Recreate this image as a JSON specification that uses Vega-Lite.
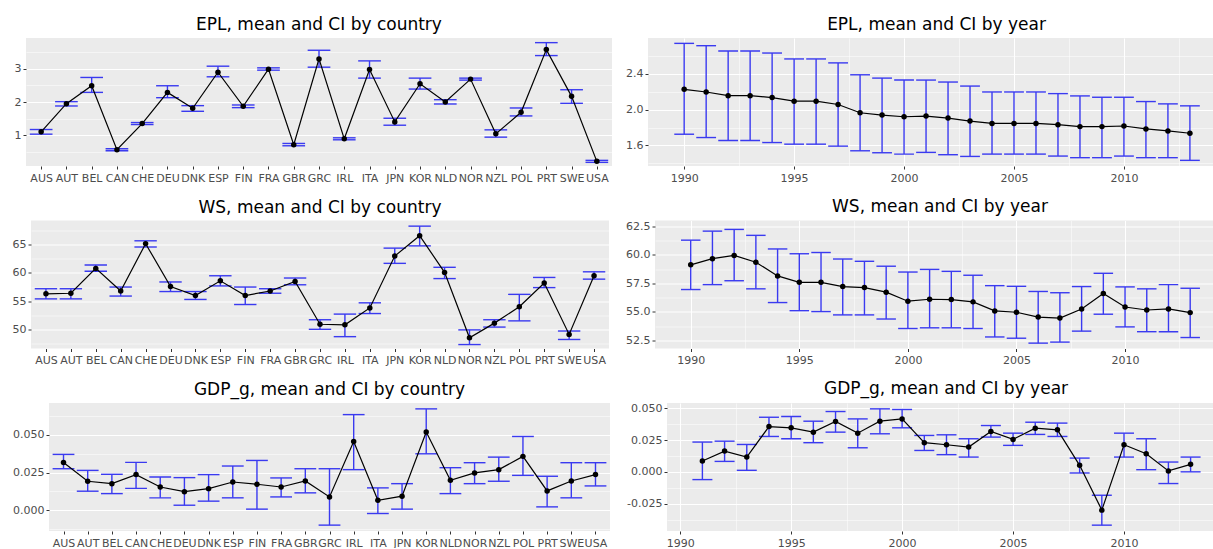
{
  "$schema": "https://vega.github.io/schema/vega-lite/v6.json",
  "background": "white",
  "padding": {"left": 0, "right": 0, "top": 16, "bottom": 0},
  "config": {
    "font": "DejaVu Sans",
    "view": {"stroke": null},
    "axis": {"domain": false, "gridColor": "#ffffff", "gridWidth": 1, "tickColor": "#333333", "tickSize": 3, "tickWidth": 1, "labelColor": "#4d4d4d", "labelFont": "DejaVu Sans", "labelFontSize": 11, "labelPadding": 2, "labelOverlap": false, "labelBound": false, "labelFlush": false},
    "axisX": {"labelPadding": 3, "labelAngle": 0},
    "title": {"font": "DejaVu Sans", "fontSize": 17, "fontWeight": "normal", "color": "#000000", "anchor": "middle", "frame": "group", "baseline": "alphabetic", "offset": 4}
  },
  "datasets": {
    "epl_c": [
      {"country": "AUS", "mean": 1.10, "lo": 1.03, "hi": 1.17},
      {"country": "AUT", "mean": 1.95, "lo": 1.88, "hi": 2.01},
      {"country": "BEL", "mean": 2.49, "lo": 2.29, "hi": 2.74},
      {"country": "CAN", "mean": 0.56, "lo": 0.53, "hi": 0.59},
      {"country": "CHE", "mean": 1.35, "lo": 1.32, "hi": 1.38},
      {"country": "DEU", "mean": 2.29, "lo": 2.13, "hi": 2.49},
      {"country": "DNK", "mean": 1.81, "lo": 1.72, "hi": 1.89},
      {"country": "ESP", "mean": 2.90, "lo": 2.76, "hi": 3.08},
      {"country": "FIN", "mean": 1.87, "lo": 1.83, "hi": 1.91},
      {"country": "FRA", "mean": 2.99, "lo": 2.96, "hi": 3.03},
      {"country": "GBR", "mean": 0.71, "lo": 0.68, "hi": 0.75},
      {"country": "GRC", "mean": 3.30, "lo": 3.05, "hi": 3.56},
      {"country": "IRL", "mean": 0.89, "lo": 0.86, "hi": 0.92},
      {"country": "ITA", "mean": 2.98, "lo": 2.72, "hi": 3.24},
      {"country": "JPN", "mean": 1.40, "lo": 1.30, "hi": 1.51},
      {"country": "KOR", "mean": 2.55, "lo": 2.39, "hi": 2.72},
      {"country": "NLD", "mean": 2.00, "lo": 1.94, "hi": 2.07},
      {"country": "NOR", "mean": 2.69, "lo": 2.66, "hi": 2.72},
      {"country": "NZL", "mean": 1.04, "lo": 0.94, "hi": 1.16},
      {"country": "POL", "mean": 1.69, "lo": 1.58, "hi": 1.82},
      {"country": "PRT", "mean": 3.58, "lo": 3.40, "hi": 3.79},
      {"country": "SWE", "mean": 2.17, "lo": 1.96, "hi": 2.37},
      {"country": "USA", "mean": 0.21, "lo": 0.18, "hi": 0.24}
    ],
    "epl_y": [
      {"year": 1990, "mean": 2.227, "lo": 1.725, "hi": 2.740},
      {"year": 1991, "mean": 2.197, "lo": 1.688, "hi": 2.714},
      {"year": 1992, "mean": 2.156, "lo": 1.655, "hi": 2.655},
      {"year": 1993, "mean": 2.156, "lo": 1.655, "hi": 2.655},
      {"year": 1994, "mean": 2.134, "lo": 1.632, "hi": 2.632},
      {"year": 1995, "mean": 2.094, "lo": 1.614, "hi": 2.566},
      {"year": 1996, "mean": 2.094, "lo": 1.614, "hi": 2.566},
      {"year": 1997, "mean": 2.057, "lo": 1.592, "hi": 2.522},
      {"year": 1998, "mean": 1.965, "lo": 1.540, "hi": 2.389},
      {"year": 1999, "mean": 1.939, "lo": 1.518, "hi": 2.352},
      {"year": 2000, "mean": 1.920, "lo": 1.503, "hi": 2.330},
      {"year": 2001, "mean": 1.928, "lo": 1.522, "hi": 2.330},
      {"year": 2002, "mean": 1.905, "lo": 1.496, "hi": 2.308},
      {"year": 2003, "mean": 1.872, "lo": 1.477, "hi": 2.263},
      {"year": 2004, "mean": 1.846, "lo": 1.503, "hi": 2.197},
      {"year": 2005, "mean": 1.846, "lo": 1.503, "hi": 2.197},
      {"year": 2006, "mean": 1.846, "lo": 1.503, "hi": 2.197},
      {"year": 2007, "mean": 1.832, "lo": 1.481, "hi": 2.179},
      {"year": 2008, "mean": 1.810, "lo": 1.463, "hi": 2.153},
      {"year": 2009, "mean": 1.810, "lo": 1.463, "hi": 2.138},
      {"year": 2010, "mean": 1.817, "lo": 1.481, "hi": 2.138},
      {"year": 2011, "mean": 1.784, "lo": 1.463, "hi": 2.090},
      {"year": 2012, "mean": 1.762, "lo": 1.463, "hi": 2.064},
      {"year": 2013, "mean": 1.736, "lo": 1.433, "hi": 2.042}
    ],
    "ws_c": [
      {"country": "AUS", "mean": 56.3, "lo": 55.4, "hi": 57.2},
      {"country": "AUT", "mean": 56.4, "lo": 55.4, "hi": 57.2},
      {"country": "BEL", "mean": 60.8, "lo": 60.3, "hi": 61.4},
      {"country": "CAN", "mean": 56.8, "lo": 55.9, "hi": 57.5},
      {"country": "CHE", "mean": 65.2, "lo": 64.6, "hi": 65.7},
      {"country": "DEU", "mean": 57.6, "lo": 56.7, "hi": 58.4},
      {"country": "DNK", "mean": 56.0, "lo": 55.3, "hi": 56.7},
      {"country": "ESP", "mean": 58.6, "lo": 57.7, "hi": 59.5},
      {"country": "FIN", "mean": 56.0, "lo": 54.4, "hi": 57.5},
      {"country": "FRA", "mean": 56.8, "lo": 56.4, "hi": 57.2},
      {"country": "GBR", "mean": 58.5, "lo": 57.9, "hi": 59.1},
      {"country": "GRC", "mean": 50.9, "lo": 50.0, "hi": 51.7},
      {"country": "IRL", "mean": 50.8, "lo": 48.7, "hi": 52.7},
      {"country": "ITA", "mean": 53.8, "lo": 52.8, "hi": 54.7},
      {"country": "JPN", "mean": 63.0, "lo": 61.7, "hi": 64.4},
      {"country": "KOR", "mean": 66.6, "lo": 64.8, "hi": 68.3},
      {"country": "NLD", "mean": 60.1, "lo": 59.0, "hi": 61.0},
      {"country": "NOR", "mean": 48.5, "lo": 47.3, "hi": 49.9},
      {"country": "NZL", "mean": 51.1, "lo": 50.4, "hi": 51.7},
      {"country": "POL", "mean": 54.0, "lo": 51.5, "hi": 56.2},
      {"country": "PRT", "mean": 58.2, "lo": 57.4, "hi": 59.2},
      {"country": "SWE", "mean": 49.1, "lo": 48.2, "hi": 49.7},
      {"country": "USA", "mean": 59.5, "lo": 58.9, "hi": 60.2}
    ],
    "ws_y": [
      {"year": 1990, "mean": 59.12, "lo": 56.96, "hi": 61.28},
      {"year": 1991, "mean": 59.66, "lo": 57.39, "hi": 62.07},
      {"year": 1992, "mean": 59.94, "lo": 57.73, "hi": 62.22},
      {"year": 1993, "mean": 59.35, "lo": 57.02, "hi": 61.70},
      {"year": 1994, "mean": 58.15, "lo": 55.82, "hi": 60.51},
      {"year": 1995, "mean": 57.59, "lo": 55.11, "hi": 60.09},
      {"year": 1996, "mean": 57.59, "lo": 55.03, "hi": 60.20},
      {"year": 1997, "mean": 57.22, "lo": 54.74, "hi": 59.63},
      {"year": 1998, "mean": 57.13, "lo": 54.74, "hi": 59.43},
      {"year": 1999, "mean": 56.73, "lo": 54.38, "hi": 59.00},
      {"year": 2000, "mean": 55.94, "lo": 53.55, "hi": 58.49},
      {"year": 2001, "mean": 56.11, "lo": 53.61, "hi": 58.72},
      {"year": 2002, "mean": 56.08, "lo": 53.61, "hi": 58.55},
      {"year": 2003, "mean": 55.88, "lo": 53.55, "hi": 58.21},
      {"year": 2004, "mean": 55.09, "lo": 52.81, "hi": 57.30},
      {"year": 2005, "mean": 54.97, "lo": 52.70, "hi": 57.24},
      {"year": 2006, "mean": 54.55, "lo": 52.27, "hi": 56.79},
      {"year": 2007, "mean": 54.46, "lo": 52.36, "hi": 56.68},
      {"year": 2008, "mean": 55.26, "lo": 53.32, "hi": 57.22},
      {"year": 2009, "mean": 56.62, "lo": 54.80, "hi": 58.38},
      {"year": 2010, "mean": 55.43, "lo": 53.69, "hi": 57.19},
      {"year": 2011, "mean": 55.17, "lo": 53.27, "hi": 57.02},
      {"year": 2012, "mean": 55.26, "lo": 53.27, "hi": 57.39},
      {"year": 2013, "mean": 54.94, "lo": 52.76, "hi": 57.07}
    ],
    "gdp_c": [
      {"country": "AUS", "mean": 0.0317, "lo": 0.0275, "hi": 0.0370},
      {"country": "AUT", "mean": 0.0192, "lo": 0.0126, "hi": 0.0264},
      {"country": "BEL", "mean": 0.0176, "lo": 0.0110, "hi": 0.0238},
      {"country": "CAN", "mean": 0.0236, "lo": 0.0145, "hi": 0.0317},
      {"country": "CHE", "mean": 0.0154, "lo": 0.0082, "hi": 0.0220},
      {"country": "DEU", "mean": 0.0123, "lo": 0.0033, "hi": 0.0216},
      {"country": "DNK", "mean": 0.0143, "lo": 0.0060, "hi": 0.0236},
      {"country": "ESP", "mean": 0.0187, "lo": 0.0082, "hi": 0.0293},
      {"country": "FIN", "mean": 0.0172, "lo": 0.0007, "hi": 0.0330},
      {"country": "FRA", "mean": 0.0154, "lo": 0.0088, "hi": 0.0214},
      {"country": "GBR", "mean": 0.0194, "lo": 0.0115, "hi": 0.0275},
      {"country": "GRC", "mean": 0.0088, "lo": -0.0099, "hi": 0.0275},
      {"country": "IRL", "mean": 0.0456, "lo": 0.0269, "hi": 0.0634},
      {"country": "ITA", "mean": 0.0066, "lo": -0.0022, "hi": 0.0148},
      {"country": "JPN", "mean": 0.0093, "lo": 0.0007, "hi": 0.0176},
      {"country": "KOR", "mean": 0.0518, "lo": 0.0374, "hi": 0.0672},
      {"country": "NLD", "mean": 0.0198, "lo": 0.0110, "hi": 0.0282},
      {"country": "NOR", "mean": 0.0247, "lo": 0.0176, "hi": 0.0315},
      {"country": "NZL", "mean": 0.0269, "lo": 0.0192, "hi": 0.0352},
      {"country": "POL", "mean": 0.0357, "lo": 0.0231, "hi": 0.0489},
      {"country": "PRT", "mean": 0.0128, "lo": 0.0022, "hi": 0.0225},
      {"country": "SWE", "mean": 0.0194, "lo": 0.0082, "hi": 0.0315},
      {"country": "USA", "mean": 0.0236, "lo": 0.0161, "hi": 0.0315}
    ],
    "gdp_y": [
      {"year": 1991, "mean": 0.0085, "lo": -0.0061, "hi": 0.0234},
      {"year": 1992, "mean": 0.0163, "lo": 0.0082, "hi": 0.0241},
      {"year": 1993, "mean": 0.0116, "lo": 0.0012, "hi": 0.0215},
      {"year": 1994, "mean": 0.0356, "lo": 0.0278, "hi": 0.0429},
      {"year": 1995, "mean": 0.0346, "lo": 0.0260, "hi": 0.0435},
      {"year": 1996, "mean": 0.0312, "lo": 0.0229, "hi": 0.0398},
      {"year": 1997, "mean": 0.0396, "lo": 0.0312, "hi": 0.0474},
      {"year": 1998, "mean": 0.0304, "lo": 0.0189, "hi": 0.0416},
      {"year": 1999, "mean": 0.0398, "lo": 0.0299, "hi": 0.0495},
      {"year": 2000, "mean": 0.0416, "lo": 0.0346, "hi": 0.0490},
      {"year": 2001, "mean": 0.0229, "lo": 0.0168, "hi": 0.0286},
      {"year": 2002, "mean": 0.0213, "lo": 0.0135, "hi": 0.0291},
      {"year": 2003, "mean": 0.0195, "lo": 0.0116, "hi": 0.0260},
      {"year": 2004, "mean": 0.0317, "lo": 0.0273, "hi": 0.0364},
      {"year": 2005, "mean": 0.0255, "lo": 0.0208, "hi": 0.0304},
      {"year": 2006, "mean": 0.0343, "lo": 0.0294, "hi": 0.0390},
      {"year": 2007, "mean": 0.0330, "lo": 0.0278, "hi": 0.0383},
      {"year": 2008, "mean": 0.0051, "lo": -0.0009, "hi": 0.0108},
      {"year": 2009, "mean": -0.0301, "lo": -0.0419, "hi": -0.0184},
      {"year": 2010, "mean": 0.0213, "lo": 0.0116, "hi": 0.0304},
      {"year": 2011, "mean": 0.0142, "lo": 0.0017, "hi": 0.0260},
      {"year": 2012, "mean": 0.0007, "lo": -0.0092, "hi": 0.0077},
      {"year": 2013, "mean": 0.0059, "lo": 0.0000, "hi": 0.0116}
    ]
  },
  "columns": 1,
  "align": "none",
  "spacing": 14.5,
  "concat": [
    {
      "spacing": 0,
      "bounds": "flush",
      "hconcat": [
        {"width": 26, "height": 128, "data": {"values": [{}]}, "mark": {"type": "text", "text": "", "opacity": 0}, "encoding": {}},
        {
          "width": 586, "height": 128,
          "view": {"fill": "#ebebeb", "stroke": null},
          "title": {"text": "EPL, mean and CI by country"},
          "data": {"name": "epl_c"},
          "resolve": {"axis": {"y": "independent"}},
          "encoding": {"x": {"field": "country", "type": "nominal", "title": null, "scale": {"type": "point", "padding": 0.6}}},
          "layer": [
            {"mark": {"type": "rule", "color": "#3a3af0", "strokeWidth": 1.4},
             "encoding": {"y": {"field": "lo", "type": "quantitative", "title": null, "scale": {"domain": [0.07, 3.93], "nice": false, "zero": false},
               "axis": {"orient": "left", "values": [1, 2, 3], "minExtent": 26, "maxExtent": 26}},
               "y2": {"field": "hi"}}},
            {"mark": {"type": "tick", "orient": "horizontal", "size": 22.7, "thickness": 1.4, "color": "#3a3af0", "opacity": 1},
             "encoding": {"y": {"field": "hi", "type": "quantitative", "title": null, "scale": {"domain": [0.07, 3.93], "nice": false, "zero": false},
               "axis": {"orient": "left", "values": [0.5, 1.5, 2.5, 3.5], "labels": false, "ticks": false, "grid": true, "gridWidth": 0.5, "minExtent": 0, "maxExtent": 0}}}},
            {"mark": {"type": "tick", "orient": "horizontal", "size": 22.7, "thickness": 1.4, "color": "#3a3af0", "opacity": 1},
             "encoding": {"y": {"field": "lo", "type": "quantitative", "axis": null, "scale": {"domain": [0.07, 3.93], "nice": false, "zero": false}}}},
            {"mark": {"type": "line", "color": "#000000", "strokeWidth": 1.2},
             "encoding": {"y": {"field": "mean", "type": "quantitative", "axis": null, "scale": {"domain": [0.07, 3.93], "nice": false, "zero": false}}}},
            {"mark": {"type": "point", "filled": true, "color": "#000000", "size": 30, "opacity": 1},
             "encoding": {"y": {"field": "mean", "type": "quantitative", "axis": null, "scale": {"domain": [0.07, 3.93], "nice": false, "zero": false}}}}
          ]
        },
        {"width": 36, "height": 128, "data": {"values": [{}]}, "mark": {"type": "text", "text": "", "opacity": 0}, "encoding": {}},
        {
          "width": 565, "height": 128,
          "view": {"fill": "#ebebeb", "stroke": null},
          "title": {"text": "EPL, mean and CI by year", "dx": 6},
          "data": {"name": "epl_y"},
          "resolve": {"axis": {"y": "independent"}},
          "encoding": {"x": {"field": "year", "type": "quantitative", "title": null, "scale": {"domain": [1988.355, 2014.05], "nice": false, "zero": false},
            "axis": {"values": [1990, 1992.5, 1995, 1997.5, 2000, 2002.5, 2005, 2007.5, 2010, 2012.5], "format": "d",
              "labelExpr": "datum.value % 5 !== 0 ? '' : datum.label",
              "tickOpacity": {"condition": {"test": "datum.value % 5 !== 0", "value": 0}, "value": 1},
              "gridWidth": {"condition": {"test": "datum.value % 5 !== 0", "value": 0.5}, "value": 1}}}},
          "layer": [
            {"mark": {"type": "rule", "color": "#3a3af0", "strokeWidth": 1.4},
             "encoding": {"y": {"field": "lo", "type": "quantitative", "title": null, "scale": {"domain": [1.37, 2.80], "nice": false, "zero": false},
               "axis": {"orient": "left", "values": [1.6, 2.0, 2.4], "format": ".1f", "minExtent": 36, "maxExtent": 36}},
               "y2": {"field": "hi"}}},
            {"mark": {"type": "tick", "orient": "horizontal", "size": 19.8, "thickness": 1.4, "color": "#3a3af0", "opacity": 1},
             "encoding": {"y": {"field": "hi", "type": "quantitative", "title": null, "scale": {"domain": [1.37, 2.80], "nice": false, "zero": false},
               "axis": {"orient": "left", "values": [1.4, 1.8, 2.2, 2.6], "labels": false, "ticks": false, "grid": true, "gridWidth": 0.5, "minExtent": 0, "maxExtent": 0}}}},
            {"mark": {"type": "tick", "orient": "horizontal", "size": 19.8, "thickness": 1.4, "color": "#3a3af0", "opacity": 1},
             "encoding": {"y": {"field": "lo", "type": "quantitative", "axis": null, "scale": {"domain": [1.37, 2.80], "nice": false, "zero": false}}}},
            {"mark": {"type": "line", "color": "#000000", "strokeWidth": 1.2},
             "encoding": {"y": {"field": "mean", "type": "quantitative", "axis": null, "scale": {"domain": [1.37, 2.80], "nice": false, "zero": false}}}},
            {"mark": {"type": "point", "filled": true, "color": "#000000", "size": 30, "opacity": 1},
             "encoding": {"y": {"field": "mean", "type": "quantitative", "axis": null, "scale": {"domain": [1.37, 2.80], "nice": false, "zero": false}}}}
          ]
        }
      ]
    },
    {
      "spacing": 0,
      "bounds": "flush",
      "hconcat": [
        {"width": 31, "height": 128, "data": {"values": [{}]}, "mark": {"type": "text", "text": "", "opacity": 0}, "encoding": {}},
        {
          "width": 578, "height": 128,
          "view": {"fill": "#ebebeb", "stroke": null},
          "title": {"text": "WS, mean and CI by country"},
          "data": {"name": "ws_c"},
          "resolve": {"axis": {"y": "independent"}},
          "encoding": {"x": {"field": "country", "type": "nominal", "title": null, "scale": {"type": "point", "padding": 0.6}}},
          "layer": [
            {"mark": {"type": "rule", "color": "#3a3af0", "strokeWidth": 1.4},
             "encoding": {"y": {"field": "lo", "type": "quantitative", "title": null, "scale": {"domain": [46.6, 69.3], "nice": false, "zero": false},
               "axis": {"orient": "left", "values": [50, 55, 60, 65], "minExtent": 31, "maxExtent": 31}},
               "y2": {"field": "hi"}}},
            {"mark": {"type": "tick", "orient": "horizontal", "size": 22.4, "thickness": 1.4, "color": "#3a3af0", "opacity": 1},
             "encoding": {"y": {"field": "hi", "type": "quantitative", "title": null, "scale": {"domain": [46.6, 69.3], "nice": false, "zero": false},
               "axis": {"orient": "left", "values": [47.5, 52.5, 57.5, 62.5, 67.5], "labels": false, "ticks": false, "grid": true, "gridWidth": 0.5, "minExtent": 0, "maxExtent": 0}}}},
            {"mark": {"type": "tick", "orient": "horizontal", "size": 22.4, "thickness": 1.4, "color": "#3a3af0", "opacity": 1},
             "encoding": {"y": {"field": "lo", "type": "quantitative", "axis": null, "scale": {"domain": [46.6, 69.3], "nice": false, "zero": false}}}},
            {"mark": {"type": "line", "color": "#000000", "strokeWidth": 1.2},
             "encoding": {"y": {"field": "mean", "type": "quantitative", "axis": null, "scale": {"domain": [46.6, 69.3], "nice": false, "zero": false}}}},
            {"mark": {"type": "point", "filled": true, "color": "#000000", "size": 30, "opacity": 1},
             "encoding": {"y": {"field": "mean", "type": "quantitative", "axis": null, "scale": {"domain": [46.6, 69.3], "nice": false, "zero": false}}}}
          ]
        },
        {"width": 46, "height": 128, "data": {"values": [{}]}, "mark": {"type": "text", "text": "", "opacity": 0}, "encoding": {}},
        {
          "width": 558, "height": 128,
          "view": {"fill": "#ebebeb", "stroke": null},
          "title": {"text": "WS, mean and CI by year", "dx": 6},
          "data": {"name": "ws_y"},
          "resolve": {"axis": {"y": "independent"}},
          "encoding": {"x": {"field": "year", "type": "quantitative", "title": null, "scale": {"domain": [1988.355, 2014.05], "nice": false, "zero": false},
            "axis": {"values": [1990, 1992.5, 1995, 1997.5, 2000, 2002.5, 2005, 2007.5, 2010, 2012.5], "format": "d",
              "labelExpr": "datum.value % 5 !== 0 ? '' : datum.label",
              "tickOpacity": {"condition": {"test": "datum.value % 5 !== 0", "value": 0}, "value": 1},
              "gridWidth": {"condition": {"test": "datum.value % 5 !== 0", "value": 0.5}, "value": 1}}}},
          "layer": [
            {"mark": {"type": "rule", "color": "#3a3af0", "strokeWidth": 1.4},
             "encoding": {"y": {"field": "lo", "type": "quantitative", "title": null, "scale": {"domain": [51.8, 63.0], "nice": false, "zero": false},
               "axis": {"orient": "left", "values": [52.5, 55, 57.5, 60, 62.5], "format": ".1f", "minExtent": 46, "maxExtent": 46}},
               "y2": {"field": "hi"}}},
            {"mark": {"type": "tick", "orient": "horizontal", "size": 19.5, "thickness": 1.4, "color": "#3a3af0", "opacity": 1},
             "encoding": {"y": {"field": "hi", "type": "quantitative", "title": null, "scale": {"domain": [51.8, 63.0], "nice": false, "zero": false},
               "axis": {"orient": "left", "values": [53.75, 56.25, 58.75, 61.25], "labels": false, "ticks": false, "grid": true, "gridWidth": 0.5, "minExtent": 0, "maxExtent": 0}}}},
            {"mark": {"type": "tick", "orient": "horizontal", "size": 19.5, "thickness": 1.4, "color": "#3a3af0", "opacity": 1},
             "encoding": {"y": {"field": "lo", "type": "quantitative", "axis": null, "scale": {"domain": [51.8, 63.0], "nice": false, "zero": false}}}},
            {"mark": {"type": "line", "color": "#000000", "strokeWidth": 1.2},
             "encoding": {"y": {"field": "mean", "type": "quantitative", "axis": null, "scale": {"domain": [51.8, 63.0], "nice": false, "zero": false}}}},
            {"mark": {"type": "point", "filled": true, "color": "#000000", "size": 30, "opacity": 1},
             "encoding": {"y": {"field": "mean", "type": "quantitative", "axis": null, "scale": {"domain": [51.8, 63.0], "nice": false, "zero": false}}}}
          ]
        }
      ]
    },
    {
      "spacing": 0,
      "bounds": "flush",
      "hconcat": [
        {"width": 49, "height": 128, "data": {"values": [{}]}, "mark": {"type": "text", "text": "", "opacity": 0}, "encoding": {}},
        {
          "width": 561, "height": 128,
          "view": {"fill": "#ebebeb", "stroke": null},
          "title": {"text": "GDP_g, mean and CI by country"},
          "data": {"name": "gdp_c"},
          "resolve": {"axis": {"y": "independent"}},
          "encoding": {"x": {"field": "country", "type": "nominal", "title": null, "scale": {"type": "point", "padding": 0.6}}},
          "layer": [
            {"mark": {"type": "rule", "color": "#3a3af0", "strokeWidth": 1.4},
             "encoding": {"y": {"field": "lo", "type": "quantitative", "title": null, "scale": {"domain": [-0.0138, 0.0711], "nice": false, "zero": false},
               "axis": {"orient": "left", "values": [0, 0.025, 0.05], "format": ".3f", "minExtent": 49, "maxExtent": 49}},
               "y2": {"field": "hi"}}},
            {"mark": {"type": "tick", "orient": "horizontal", "size": 21.8, "thickness": 1.4, "color": "#3a3af0", "opacity": 1},
             "encoding": {"y": {"field": "hi", "type": "quantitative", "title": null, "scale": {"domain": [-0.0138, 0.0711], "nice": false, "zero": false},
               "axis": {"orient": "left", "values": [-0.0125, 0.0125, 0.0375, 0.0625], "labels": false, "ticks": false, "grid": true, "gridWidth": 0.5, "minExtent": 0, "maxExtent": 0}}}},
            {"mark": {"type": "tick", "orient": "horizontal", "size": 21.8, "thickness": 1.4, "color": "#3a3af0", "opacity": 1},
             "encoding": {"y": {"field": "lo", "type": "quantitative", "axis": null, "scale": {"domain": [-0.0138, 0.0711], "nice": false, "zero": false}}}},
            {"mark": {"type": "line", "color": "#000000", "strokeWidth": 1.2},
             "encoding": {"y": {"field": "mean", "type": "quantitative", "axis": null, "scale": {"domain": [-0.0138, 0.0711], "nice": false, "zero": false}}}},
            {"mark": {"type": "point", "filled": true, "color": "#000000", "size": 30, "opacity": 1},
             "encoding": {"y": {"field": "mean", "type": "quantitative", "axis": null, "scale": {"domain": [-0.0138, 0.0711], "nice": false, "zero": false}}}}
          ]
        },
        {"width": 57, "height": 128, "data": {"values": [{}]}, "mark": {"type": "text", "text": "", "opacity": 0}, "encoding": {}},
        {
          "width": 546, "height": 128,
          "view": {"fill": "#ebebeb", "stroke": null},
          "title": {"text": "GDP_g, mean and CI by year", "dx": 6},
          "data": {"name": "gdp_y"},
          "resolve": {"axis": {"y": "independent"}},
          "encoding": {"x": {"field": "year", "type": "quantitative", "title": null, "scale": {"domain": [1989.405, 2014.01], "nice": false, "zero": false},
            "axis": {"values": [1990, 1992.5, 1995, 1997.5, 2000, 2002.5, 2005, 2007.5, 2010, 2012.5], "format": "d",
              "labelExpr": "datum.value % 5 !== 0 ? '' : datum.label",
              "tickOpacity": {"condition": {"test": "datum.value % 5 !== 0", "value": 0}, "value": 1},
              "gridWidth": {"condition": {"test": "datum.value % 5 !== 0", "value": 0.5}, "value": 1}}}},
          "layer": [
            {"mark": {"type": "rule", "color": "#3a3af0", "strokeWidth": 1.4},
             "encoding": {"y": {"field": "lo", "type": "quantitative", "title": null, "scale": {"domain": [-0.0465, 0.0541], "nice": false, "zero": false},
               "axis": {"orient": "left", "values": [-0.025, 0, 0.025, 0.05], "format": ".3f", "minExtent": 57, "maxExtent": 57,
                 "labelExpr": "replace(datum.label, '\u2212', '-')"}},
               "y2": {"field": "hi"}}},
            {"mark": {"type": "tick", "orient": "horizontal", "size": 20.0, "thickness": 1.4, "color": "#3a3af0", "opacity": 1},
             "encoding": {"y": {"field": "hi", "type": "quantitative", "title": null, "scale": {"domain": [-0.0465, 0.0541], "nice": false, "zero": false},
               "axis": {"orient": "left", "values": [-0.0375, -0.0125, 0.0125, 0.0375], "labels": false, "ticks": false, "grid": true, "gridWidth": 0.5, "minExtent": 0, "maxExtent": 0}}}},
            {"mark": {"type": "tick", "orient": "horizontal", "size": 20.0, "thickness": 1.4, "color": "#3a3af0", "opacity": 1},
             "encoding": {"y": {"field": "lo", "type": "quantitative", "axis": null, "scale": {"domain": [-0.0465, 0.0541], "nice": false, "zero": false}}}},
            {"mark": {"type": "line", "color": "#000000", "strokeWidth": 1.2},
             "encoding": {"y": {"field": "mean", "type": "quantitative", "axis": null, "scale": {"domain": [-0.0465, 0.0541], "nice": false, "zero": false}}}},
            {"mark": {"type": "point", "filled": true, "color": "#000000", "size": 30, "opacity": 1},
             "encoding": {"y": {"field": "mean", "type": "quantitative", "axis": null, "scale": {"domain": [-0.0465, 0.0541], "nice": false, "zero": false}}}}
          ]
        }
      ]
    }
  ]
}
